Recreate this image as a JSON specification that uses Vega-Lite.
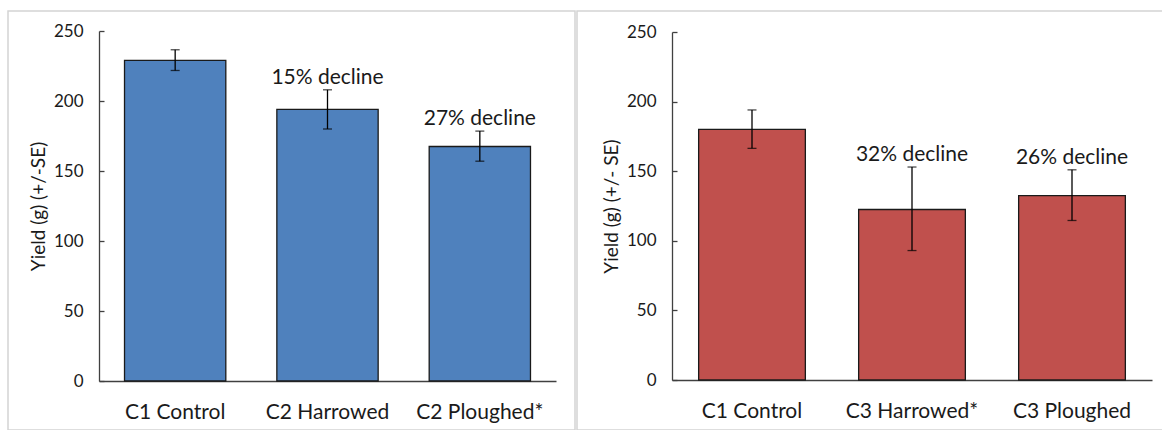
{
  "$schema": "https://vega.github.io/schema/vega-lite/v6.json",
  "padding": {"left": 7, "top": 10, "right": 0, "bottom": 0},
  "spacing": 0,
  "config": {
    "view": {"stroke": "#d4d4d4", "strokeWidth": 1.5},
    "font": "Lato",
    "axis": {"grid": false, "labelColor": "#1a1a1a", "titleColor": "#1a1a1a", "titleFontWeight": "normal", "domainColor": "#404040", "tickColor": "#404040", "domainWidth": 1.3, "tickWidth": 1.3}
  },
  "datasets": {
    "left": [
      {"cat": "C1 Control", "value": 229, "lo": 221.8, "hi": 236.6, "label": ""},
      {"cat": "C2 Harrowed", "value": 194, "lo": 180, "hi": 208, "label": "15% decline"},
      {"cat": "C2 Ploughed*", "value": 167.5, "lo": 157, "hi": 178.5, "label": "27% decline"}
    ],
    "right": [
      {"cat": "C1 Control", "value": 180, "lo": 166.4, "hi": 194, "label": ""},
      {"cat": "C3 Harrowed*", "value": 122.5, "lo": 93, "hi": 153, "label": "32% decline"},
      {"cat": "C3 Ploughed", "value": 132.5, "lo": 114.6, "hi": 151, "label": "26% decline"}
    ]
  },
  "hconcat": [
    {
      "width": 567,
      "height": 419,
      "data": {"name": "left"},
      "encoding": {
        "x": {"field": "cat", "type": "nominal", "sort": null,
          "scale": {"range": [91, 548], "paddingInner": 0.335, "paddingOuter": 0.1675},
          "axis": {"title": null, "labelAngle": 0, "ticks": false, "offset": -49, "labelFontSize": 21, "labelPadding": 20}}
      },
      "layer": [
        {"mark": {"type": "bar", "fill": "#4f81bd", "stroke": "#1a1a1a", "strokeWidth": 1.3},
          "encoding": {"y": {"field": "value", "type": "quantitative", "title": "Yield (g) (+/-SE)",
            "scale": {"domain": [0, 250], "range": [370, 20], "nice": false},
            "axis": {"offset": -91, "values": [0, 50, 100, 150, 200, 250], "tickSize": -5, "labelPadding": 21, "labelFontSize": 17, "titleFontSize": 19, "titlePadding": 5}}}},
        {"mark": {"type": "rule", "color": "#000000", "strokeWidth": 1.3},
          "encoding": {"y": {"field": "lo", "type": "quantitative", "title": "Yield (g) (+/-SE)"}, "y2": {"field": "hi"}}},
        {"mark": {"type": "tick", "color": "#000000", "thickness": 1.3, "size": 9},
          "encoding": {"y": {"field": "lo", "type": "quantitative", "title": "Yield (g) (+/-SE)"}}},
        {"mark": {"type": "tick", "color": "#000000", "thickness": 1.3, "size": 9},
          "encoding": {"y": {"field": "hi", "type": "quantitative", "title": "Yield (g) (+/-SE)"}}},
        {"mark": {"type": "text", "baseline": "alphabetic", "dy": -6, "fontSize": 21, "color": "#1a1a1a"},
          "encoding": {"y": {"field": "hi", "type": "quantitative", "title": "Yield (g) (+/-SE)"}, "text": {"field": "label"}}}
      ]
    },
    {
      "width": 587,
      "height": 419,
      "data": {"name": "right"},
      "encoding": {
        "x": {"field": "cat", "type": "nominal", "sort": null,
          "scale": {"range": [95, 575], "paddingInner": 0.333, "paddingOuter": 0.1665},
          "axis": {"title": null, "labelAngle": 0, "ticks": false, "offset": -50, "labelFontSize": 21, "labelPadding": 20}}
      },
      "layer": [
        {"mark": {"type": "bar", "fill": "#c0504d", "stroke": "#1a1a1a", "strokeWidth": 1.3},
          "encoding": {"y": {"field": "value", "type": "quantitative", "title": "Yield (g) (+/- SE)",
            "scale": {"domain": [0, 250], "range": [369, 21], "nice": false},
            "axis": {"offset": -95, "values": [0, 50, 100, 150, 200, 250], "tickSize": -5, "labelPadding": 21, "labelFontSize": 17, "titleFontSize": 19, "titlePadding": 5}}}},
        {"mark": {"type": "rule", "color": "#000000", "strokeWidth": 1.3},
          "encoding": {"y": {"field": "lo", "type": "quantitative", "title": "Yield (g) (+/- SE)"}, "y2": {"field": "hi"}}},
        {"mark": {"type": "tick", "color": "#000000", "thickness": 1.3, "size": 9},
          "encoding": {"y": {"field": "lo", "type": "quantitative", "title": "Yield (g) (+/- SE)"}}},
        {"mark": {"type": "tick", "color": "#000000", "thickness": 1.3, "size": 9},
          "encoding": {"y": {"field": "hi", "type": "quantitative", "title": "Yield (g) (+/- SE)"}}},
        {"mark": {"type": "text", "baseline": "alphabetic", "dy": -6, "fontSize": 21, "color": "#1a1a1a"},
          "encoding": {"y": {"field": "hi", "type": "quantitative", "title": "Yield (g) (+/- SE)"}, "text": {"field": "label"}}}
      ]
    }
  ]
}
